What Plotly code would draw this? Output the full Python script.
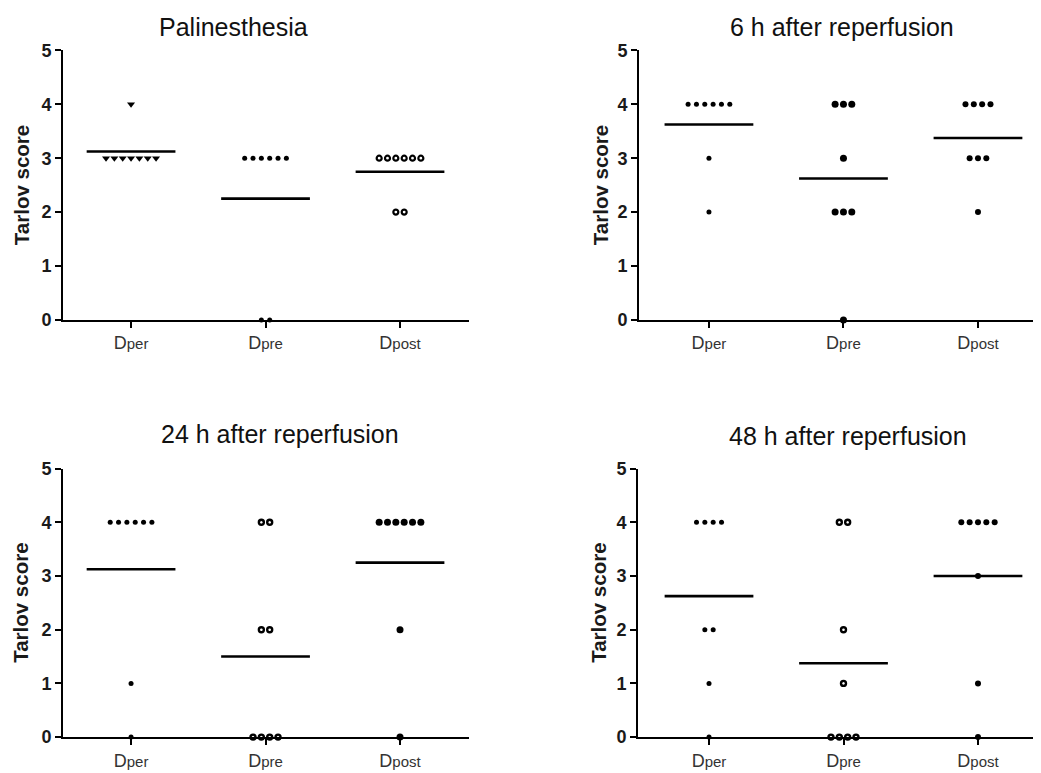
import numpy as np
import plotly.graph_objects as go

# ---------------- data ----------------
categories = ["Dper", "Dpre", "Dpost"]
tick_labels = [
    "D<span style='font-size:15px'>per</span>",
    "D<span style='font-size:15px'>pre</span>",
    "D<span style='font-size:15px'>post</span>",
]
panel_titles = ["Palinesthesia", "6 h after reperfusion",
                "24 h after reperfusion", "48 h after reperfusion"]
y_ticks = [0, 1, 2, 3, 4, 5]

pal_dper = [4, 3, 3, 3, 3, 3, 3, 3]
pal_dpre = [3, 3, 3, 3, 3, 3, 0, 0]
pal_dpost = [3, 3, 3, 3, 3, 3, 2, 2]

h6_dper = [4, 4, 4, 4, 4, 4, 3, 2]
h6_dpre = [4, 4, 4, 3, 2, 2, 2, 0]
h6_dpost = [4, 4, 4, 4, 3, 3, 3, 2]

h24_dper = [4, 4, 4, 4, 4, 4, 1, 0]
h24_dpre = [4, 4, 2, 2, 0, 0, 0, 0]
h24_dpost = [4, 4, 4, 4, 4, 4, 2, 0]

h48_dper = [4, 4, 4, 4, 2, 2, 1, 0]
h48_dpre = [4, 4, 2, 1, 0, 0, 0, 0]
h48_dpost = [4, 4, 4, 4, 4, 3, 1, 0]

panels = [
    [pal_dper, pal_dpre, pal_dpost],
    [h6_dper, h6_dpre, h6_dpost],
    [h24_dper, h24_dpre, h24_dpost],
    [h48_dper, h48_dpre, h48_dpost],
]

# ---------------- styles / geometry (pixels in figure space) ----------------
W, H = 1041, 773
# (x_left, x_right, y_top(=5), y_bottom(=0), x range)
geom = [
    (55, 461, 33.3, 309.9, [-0.506, 2.513]),
    (631, 1041, 33.3, 309.9, [-0.520, 2.528]),
    (55, 461, 462.6, 738.2, [-0.506, 2.513]),
    (630, 1041, 462.6, 738.2, [-0.528, 2.528]),
]
title_pos = [(225, 9.5), (834, 9.5), (272, 427.0), (840, 429.0)]
ytitle_x = [13, 592, 13, 591]

symbols = [
    [("triangle-down", 7, 0), ("circle", 5, 0), ("circle-open", 5, 2.2)],
    [("circle", 5, 0), ("circle", 7, 0), ("circle", 6, 0)],
    [("circle", 5, 0), ("circle-open", 5, 2.4), ("circle", 7, 0)],
    [("circle", 5, 0), ("circle-open", 5, 2.4), ("circle", 6, 0)],
]

step = 0.062
half_w = 0.33
FONT = "Liberation Sans, Arial, sans-serif"

fig = go.Figure()
layout_axes = {}
annotations = []

for p, groups in enumerate(panels):
    xl, xr, yt, yb, xrng = geom[p]
    xa = "x" if p == 0 else f"x{p+1}"
    ya = "y" if p == 0 else f"y{p+1}"
    for g, vals in enumerate(groups):
        vals = np.array(vals, dtype=float)
        xs = np.zeros(len(vals))
        for v in np.unique(vals):
            idx = np.where(vals == v)[0]
            n = len(idx)
            xs[idx] = g + (np.arange(n) - (n - 1) / 2) * step
        sym, sz, lw = symbols[p][g]
        fig.add_trace(go.Scatter(
            x=xs, y=vals, mode="markers", xaxis=xa, yaxis=ya,
            cliponaxis=False, showlegend=False,
            marker=dict(symbol=sym, size=sz, color="black",
                        line=dict(color="black", width=lw)),
        ))
        m = vals.mean()
        fig.add_trace(go.Scatter(
            x=[g - half_w, g + half_w], y=[m, m], mode="lines",
            xaxis=xa, yaxis=ya, cliponaxis=False, showlegend=False,
            line=dict(color="black", width=2.6),
        ))

    xkey = "xaxis" if p == 0 else f"xaxis{p+1}"
    ykey = "yaxis" if p == 0 else f"yaxis{p+1}"
    layout_axes[xkey] = dict(
        domain=[xl / W, xr / W], anchor=ya, range=xrng,
        tickmode="array", tickvals=[0, 1, 2], ticktext=tick_labels,
        showline=True, linecolor="black", linewidth=2,
        ticks="outside", ticklen=6, tickwidth=2, tickcolor="black",
        showgrid=False, zeroline=False,
        tickfont=dict(family=FONT, size=18, color="#333"),
        fixedrange=True,
    )
    layout_axes[ykey] = dict(
        domain=[1 - yb / H, 1 - yt / H], anchor=xa, range=[0, 5],
        tickmode="array", tickvals=y_ticks,
        showline=True, linecolor="black", linewidth=2,
        ticks="outside", ticklen=6, tickwidth=2, tickcolor="black",
        showgrid=False, zeroline=False,
        tickfont=dict(family=FONT, size=18, color="#1a1a1a", weight="bold"),
        fixedrange=True,
    )
    tx, ty = title_pos[p]
    annotations.append(dict(
        text=panel_titles[p], xref="paper", yref="paper",
        x=tx / W, y=1 - ty / H, xanchor="center", yanchor="middle",
        showarrow=False,
        font=dict(family=FONT, size=25, color="#111"),
    ))
    annotations.append(dict(
        text="Tarlov score", xref="paper", yref="paper",
        x=ytitle_x[p] / W, y=1 - (yt + yb) / 2 / H,
        xanchor="center", yanchor="middle", textangle=-90,
        showarrow=False,
        font=dict(family=FONT, size=20.5, color="#1a1a1a", weight="bold"),
    ))

fig.update_layout(
    width=W, height=H,
    margin=dict(l=0, r=0, t=0, b=0),
    paper_bgcolor="white", plot_bgcolor="white",
    annotations=annotations,
    **layout_axes,
)

fig.write_html("out.html")
